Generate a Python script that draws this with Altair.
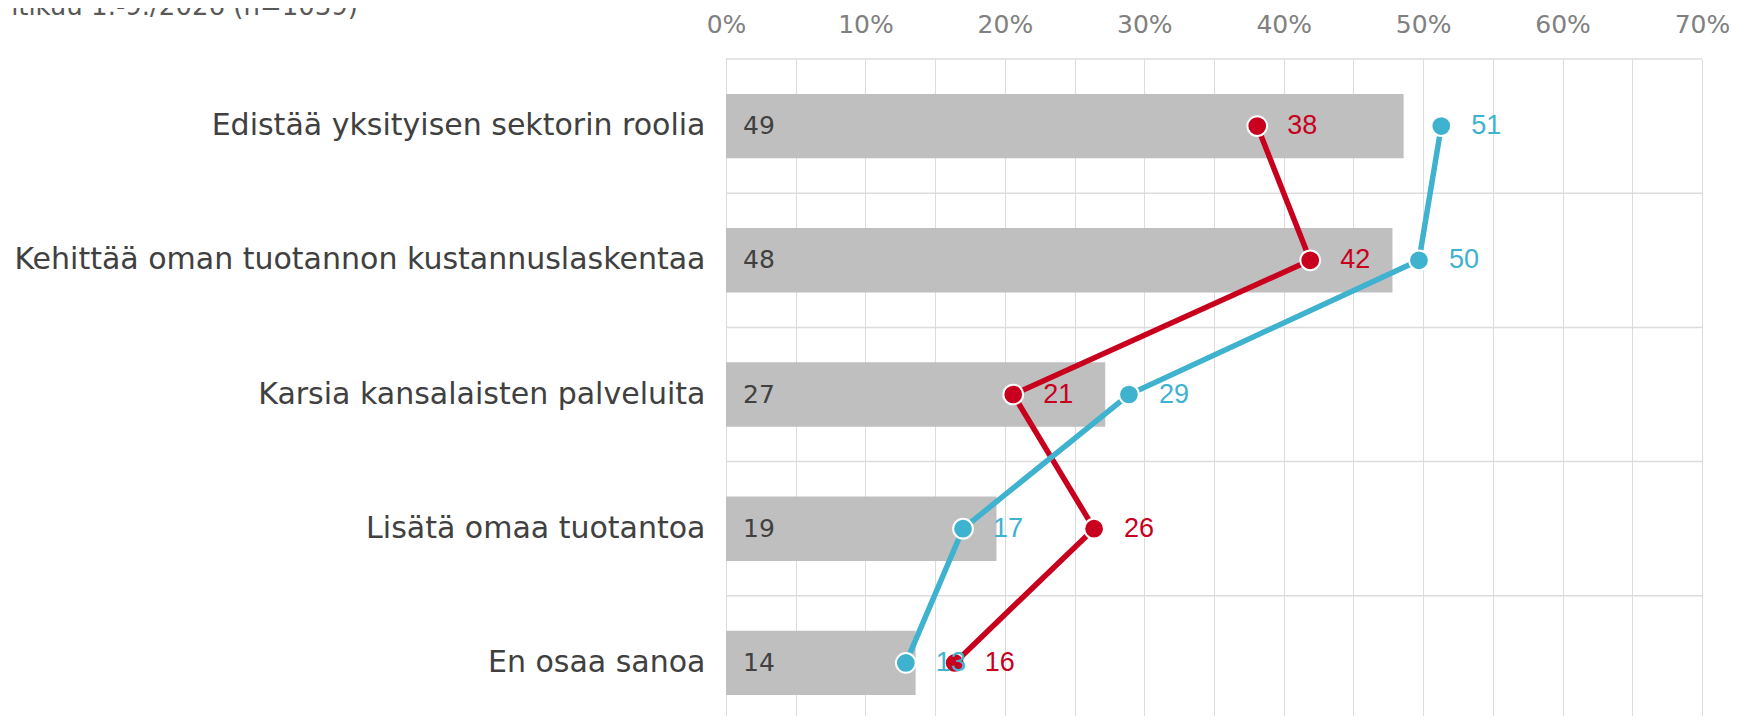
import altair as alt
import pandas as pd

# ---- data ----
categories = [
    "Edistää yksityisen sektorin roolia",
    "Kehittää oman tuotannon kustannuslaskentaa",
    "Karsia kansalaisten palveluita",
    "Lisätä omaa tuotantoa",
    "En osaa sanoa",
]
bar_values = [48.6, 47.8, 27.2, 19.4, 13.6]
red_values = [38.1, 41.9, 20.6, 26.4, 16.4]
blue_values = [51.3, 49.7, 28.9, 17.0, 12.9]
series_names = ["Sarja A", "Sarja B"]
series_colors = ["#C8001E", "#3FB2CF"]
x_ticks = list(range(0, 75, 5))
title_text = "ntikuu 1.-9./2026 (n=1039)"

# ---- tables ----
bar_df = pd.DataFrame({"category": categories, "value": bar_values})
rows = []
for name, vals in zip(series_names, [red_values, blue_values]):
    for i, (c, v) in enumerate(zip(categories, vals)):
        rows.append({"series": name, "category": c, "idx": i, "value": v})
pts_df = pd.DataFrame(rows)
title_df = pd.DataFrame({"t": [title_text]})

W = 976
H = 657
FULL_H = 671
STEP = FULL_H / len(categories)

x_enc = alt.X(
    "value:Q",
    scale=alt.Scale(domain=[0, 70], nice=False, zero=True),
    axis=alt.Axis(
        orient="top",
        values=x_ticks,
        labelExpr="datum.value % 10 == 0 ? datum.value + '%' : ''",
        labelFlush=False,
        labelOverlap=False,
        grid=True,
        gridColor="#DCDCDC",
        gridWidth=1,
        domain=False,
        ticks=False,
        tickSize=0,
        labelFontSize=25,
        labelFont="DejaVu Sans",
        labelColor="#808080",
        labelPadding=22,
        title=None,
    ),
)
y_enc = alt.Y(
    "category:N",
    sort=categories,
    scale=alt.Scale(paddingInner=0.52, paddingOuter=0.26, range=[0, FULL_H]),
    axis=alt.Axis(
        title=None,
        domain=False,
        ticks=False,
        grid=False,
        labelFontSize=30,
        labelFont="DejaVu Sans",
        labelColor="#404040",
        labelPadding=21,
        labelLimit=1000,
    ),
)
color_enc = alt.Color(
    "series:N",
    scale=alt.Scale(domain=series_names, range=series_colors),
    legend=None,
)

hgrid = alt.Chart(bar_df).mark_rule(
    color="#DCDCDC", strokeWidth=1.5, yOffset=-STEP / 2
).encode(y=y_enc, x=alt.value(0), x2=alt.value(W))

bars = alt.Chart(bar_df).mark_bar(color="#BFBFBF").encode(x=x_enc, y=y_enc)

bar_labels = alt.Chart(bar_df).mark_text(
    align="left", baseline="middle", font="DejaVu Sans", fontSize=25, color="#404040"
).encode(y=y_enc, x=alt.value(17), text=alt.Text("value:Q", format=".0f"))

lines = alt.Chart(pts_df).mark_line(strokeWidth=5.5).encode(
    x=x_enc, y=y_enc, color=color_enc, order="idx:Q"
)

points = alt.Chart(pts_df).mark_circle(
    size=390, opacity=1, stroke="white", strokeWidth=2
).encode(x=x_enc, y=y_enc, color=color_enc)

labels = alt.Chart(pts_df).mark_text(
    align="left", baseline="middle", dx=30, font="Liberation Sans", fontSize=27
).encode(x=x_enc, y=y_enc, color=color_enc, text=alt.Text("value:Q", format=".0f"))

title = alt.Chart(title_df).mark_text(
    align="right", baseline="alphabetic", font="DejaVu Sans", fontSize=26, color="#595959"
).encode(text="t:N", x=alt.value(-368), y=alt.value(-44))

chart = (
    alt.layer(hgrid, bars, bar_labels, lines, points, labels, title)
    .properties(
        width=W,
        height=H,
        autosize=alt.AutoSizeParams(type="none"),
        padding={"left": 718, "top": 51, "right": 29, "bottom": 0},
        background="white",
    )
    .configure_view(stroke=None)
)

chart.save("out.html", embed_options={"renderer": "svg", "actions": False})
